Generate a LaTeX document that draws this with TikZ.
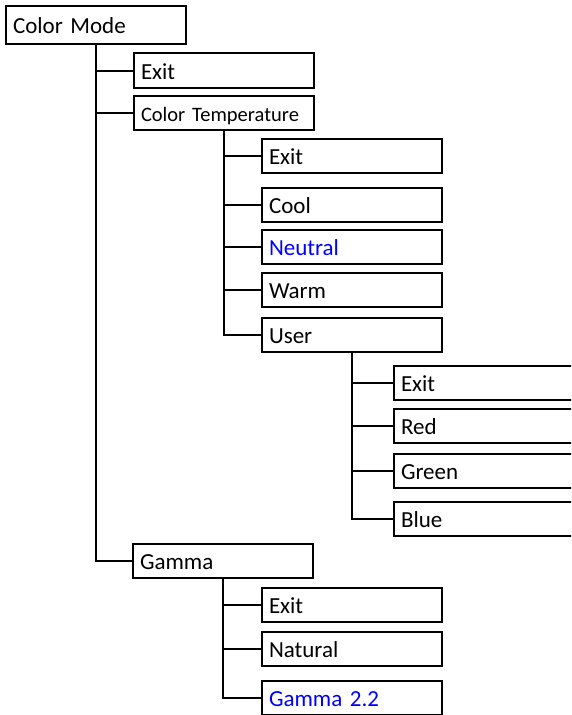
\documentclass[tikz,border=0pt]{standalone}
\usepackage{fontspec}
\setmainfont{Carlito}
\begin{document}
\begin{tikzpicture}[x=1pt,y=1pt]
\tikzset{
 box/.style={draw, line width=2pt, anchor=north west, minimum width=180pt, minimum height=34pt,
   inner xsep=7pt, inner ysep=0pt, text width=166pt, align=left, text height=17pt, text depth=0pt,
   font=\fontsize{23}{27}\selectfont},
 wide/.style={minimum width=220pt, text width=206pt},
 sel/.style={text=blue},
 wire/.style={line width=2pt}
}
\useasboundingbox (0,0) rectangle (571,-715);
\clip (0,0) rectangle (571,-715);
% level 0
\node[box, minimum height=38pt] (cm) at (5,-5) {Color Mode};
% level 1
\node[box, minimum height=35pt] (cme) at (133,-52) {Exit};
\node[box, font=\fontsize{20.5}{24}\selectfont] (ct) at (133,-95) {Color Temperature};
\node[box] (gam) at (132,-543) {Gamma};
% color temperature children
\node[box] (ex2) at (261,-138) {Exit};
\node[box] (cool) at (261,-187) {Cool};
\node[box, sel] (neu) at (261,-229) {Neutral};
\node[box] (warm) at (261,-272) {Warm};
\node[box] (user) at (261,-317) {User};
% user children
\node[box, wide] (ex3) at (393,-365) {Exit};
\node[box, wide] (red) at (393,-408) {Red};
\node[box, wide] (green) at (393,-453) {Green};
\node[box, wide] (blue) at (393,-501) {Blue};
% gamma children
\node[box] (gex) at (261,-587) {Exit};
\node[box] (nat) at (261,-631) {Natural};
\node[box, sel] (g22) at (261,-680) {Gamma 2.2};
% connectors
\draw[wire] (cm.south) |- (gam.west);
\draw[wire] (cm.south |- cme.west) -- (cme.west);
\draw[wire] (cm.south |- ct.west) -- (ct.west);
\draw[wire] (ct.south) |- (user.west);
\foreach \n in {ex2,cool,neu,warm} \draw[wire] (ct.south |- \n.west) -- (\n.west);
\draw[wire] (user.south) |- (blue.west);
\foreach \n in {ex3,red,green} \draw[wire] (user.south |- \n.west) -- (\n.west);
\draw[wire] (gam.south) |- (g22.west);
\foreach \n in {gex,nat} \draw[wire] (gam.south |- \n.west) -- (\n.west);
\end{tikzpicture}
\end{document}
